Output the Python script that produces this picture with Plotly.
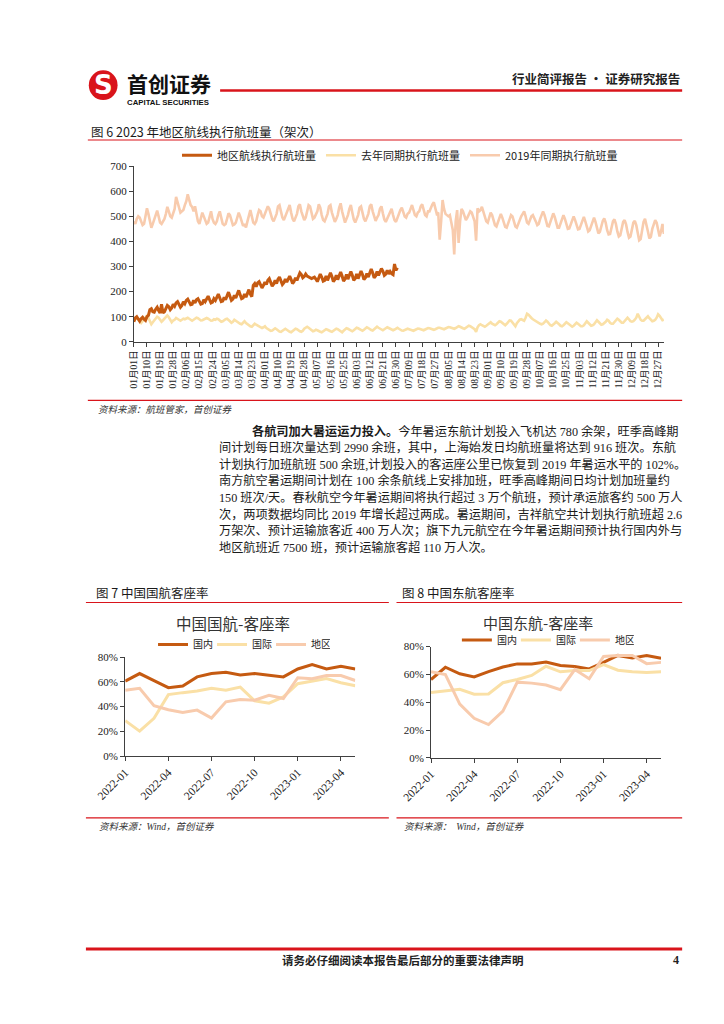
import plotly.graph_objects as go

W, H = 724, 1024
def fx(x): return x / W
def fy(y): return 1 - y / H

# ---------------- Figure 6 data (daily, 2023 calendar) ----------------
tick_labels_6 = ['01月01日', '01月10日', '01月19日', '01月28日', '02月06日', '02月15日', '02月24日',
                 '03月05日', '03月14日', '03月23日', '04月01日', '04月10日', '04月19日', '04月28日',
                 '05月07日', '05月16日', '05月25日', '06月03日', '06月12日', '06月21日', '06月30日',
                 '07月09日', '07月18日', '07月27日', '08月05日', '08月14日', '08月23日', '09月01日',
                 '09月10日', '09月19日', '09月28日', '10月07日', '10月16日', '10月25日', '11月03日',
                 '11月12日', '11月21日', '11月30日', '12月09日', '12月18日', '12月27日']

flights_2023 = [
    80, 95, 100, 88, 82, 92, 98,
    90, 85, 100, 105, 128, 132, 120,
    118, 130, 138, 125, 115, 150, 115,
    120, 132, 145, 140, 128, 135, 150,
    142, 155, 160, 150, 138, 145, 160,
    152, 165, 170, 158, 148, 150, 165,
    155, 168, 172, 160, 150, 152, 168,
    160, 175, 182, 168, 155, 158, 172,
    165, 178, 190, 175, 160, 162, 178,
    168, 185, 198, 182, 165, 170, 185,
    175, 190, 205, 188, 172, 175, 190,
    178, 195, 208, 190, 180, 225, 232,
    220, 235, 240, 228, 215, 225, 238,
    228, 245, 252, 238, 222, 230, 245,
    232, 250, 258, 242, 228, 235, 250,
    238, 252, 262, 248, 232, 240, 255,
    245, 262, 275, 268, 255, 260, 270,
    262, 258, 255, 252, 255, 258, 250,
    240, 255, 270, 258, 242, 245, 262,
    245, 262, 275, 260, 240, 248, 265,
    248, 265, 278, 262, 242, 250, 268,
    250, 268, 280, 265, 245, 252, 270,
    252, 270, 282, 268, 248, 255, 272,
    258, 275, 290, 275, 255, 262, 280,
    265, 280, 292, 282, 265, 270, 285,
    270, 280, 272, 268, 310, 285, 295,
]

flights_2022 = [
    85, 90, 95, 88, 80, 75, 82,
    90, 98, 104, 95, 85, 70, 78,
    85, 92, 100, 96, 88, 80, 86,
    92, 100, 105, 98, 90, 78, 85,
    88, 95, 92, 86, 84, 88, 92,
    90, 94, 96, 92, 86, 84, 88,
    92, 96, 94, 90, 85, 86, 90,
    93, 95, 92, 88, 84, 85, 90,
    88, 92, 90, 84, 80, 82, 88,
    90, 92, 88, 82, 76, 80, 88,
    84, 78, 74, 72, 70, 76, 82,
    75, 70, 65, 62, 60, 66, 72,
    68, 64, 60, 56, 55, 58, 62,
    55, 50, 46, 44, 45, 50, 54,
    50, 45, 41, 40, 43, 48, 52,
    48, 43, 40, 38, 42, 47, 52,
    50, 45, 42, 40, 44, 52, 58,
    60, 56, 50, 45, 42, 44, 48,
    46, 42, 40, 38, 42, 46, 50,
    48, 44, 42, 40, 45, 50, 52,
    50, 46, 42, 38, 44, 50, 54,
    52, 48, 44, 42, 46, 52, 56,
    54, 50, 46, 44, 48, 54, 58,
    55, 50, 47, 45, 50, 56, 60,
    56, 52, 48, 46, 50, 55, 58,
    55, 51, 48, 46, 49, 53, 56,
    52, 48, 45, 44, 47, 50, 52,
    50, 47, 45, 44, 47, 51, 53,
    52, 49, 47, 46, 49, 53, 55,
    54, 51, 49, 48, 50, 54, 56,
    56, 53, 51, 50, 53, 57, 59,
    58, 55, 53, 52, 55, 60, 62,
    60, 56, 54, 52, 56, 62, 64,
    62, 58, 55, 50, 40, 58, 66,
    70, 66, 62, 60, 64, 70, 74,
    78, 72, 68, 66, 70, 78, 82,
    80, 75, 70, 66, 72, 80, 85,
    84, 78, 72, 62, 74, 82, 88,
    90, 86, 84, 96, 112, 108, 100,
    95, 90, 86, 84, 80, 76, 72,
    70, 72, 78, 85, 80, 72, 66,
    64, 68, 74, 80, 76, 70, 64,
    62, 66, 72, 78, 74, 68, 62,
    60, 64, 70, 76, 72, 66, 62,
    62, 66, 74, 82, 76, 70, 64,
    66, 70, 78, 86, 80, 72, 68,
    70, 74, 80, 88, 84, 76, 72,
    72, 78, 84, 92, 88, 80, 76,
    76, 82, 88, 96, 90, 82, 80,
    82, 88, 96, 112, 100, 88, 84,
    84, 90, 96, 102, 94, 86, 82,
    84, 88, 96, 110, 104, 92, 86,
    88,
]

flights_2019 = [
    480, 470, 490, 500, 495, 475, 465,
    470, 500, 532, 510, 480, 455, 470,
    485, 505, 523, 500, 475, 470, 480,
    490, 510, 538, 520, 500, 495, 510,
    530, 578, 560, 540, 515, 520, 525,
    545, 560, 588, 570, 545, 538, 520,
    540, 500, 480, 470, 490, 515, 500,
    480, 470, 475, 500, 520, 490, 475,
    470, 480, 505, 520, 495, 470, 465,
    470, 490, 512, 505, 480, 465, 468,
    475, 495, 515, 500, 478, 462, 470,
    456, 480, 510, 525, 500, 475, 470,
    480, 505, 525, 520, 500, 495, 510,
    525, 540, 530, 505, 490, 480, 495,
    510, 540, 545, 520, 495, 485, 500,
    515, 535, 545, 515, 490, 480, 495,
    510, 540, 548, 520, 500, 485, 495,
    515, 545, 540, 510, 490, 495, 505,
    520, 548, 535, 505, 485, 480, 495,
    510, 540, 545, 515, 490, 478, 490,
    505, 535, 552, 520, 490, 475, 490,
    505, 530, 545, 515, 488, 476, 490,
    505, 535, 540, 515, 490, 480, 495,
    510, 540, 548, 520, 495, 482, 495,
    505, 530, 540, 512, 488, 478, 492,
    500, 520, 530, 505, 485, 478, 495,
    505, 525, 535, 515, 500, 495, 510,
    515, 535, 545, 525, 505, 500, 515,
    520, 540, 548, 525, 505, 500, 520,
    520, 535, 548, 556, 525, 510, 515,
    407, 480, 565, 530, 510, 505, 500,
    505, 470, 446, 348, 480, 525, 394,
    480, 530, 520, 500, 485, 495, 510,
    520, 515, 500, 480, 403, 532, 520,
    525, 538, 520, 500, 480, 475, 495,
    515, 505, 485, 465, 460, 480, 500,
    510, 495, 475, 458, 455, 475, 495,
    505, 500, 480, 460, 455, 470, 490,
    500, 510, 520, 500, 475, 470, 485,
    500, 505, 495, 480, 465, 470, 490,
    510, 520, 505, 480, 462, 460, 480,
    500, 512, 498, 475, 455, 455, 475,
    495, 505, 490, 468, 450, 452, 470,
    490, 500, 485, 462, 448, 450, 468,
    488, 498, 480, 455, 440, 445, 465,
    485, 495, 478, 450, 432, 438, 460,
    482, 492, 475, 445, 428, 430, 455,
    480, 488, 470, 440, 420, 425, 450,
    478, 485, 468, 438, 415, 420, 448,
    475, 482, 465, 435, 405, 410, 445,
    478, 490, 470, 440, 412, 418, 450,
    470, 485, 475, 445, 420, 440, 470,
    430,
]

# ---------------- Figures 7 / 8 data (monthly load factor, %) ----------------
months = ['2022-01', '2022-02', '2022-03', '2022-04', '2022-05', '2022-06', '2022-07', '2022-08',
          '2022-09', '2022-10', '2022-11', '2022-12', '2023-01', '2023-02', '2023-03', '2023-04',
          '2023-05']
month_ticks = ['2022-01', '2022-04', '2022-07', '2022-10', '2023-01', '2023-04']

ca_domestic = [60.6, 66.7, 61.0, 55.3, 56.6, 64.0, 66.7, 67.8, 65.6, 66.7, 65.4, 64.0, 70.4, 73.9, 70.4, 72.6, 70.4]
ca_intl = [28.7, 20.2, 30.6, 49.7, 51.3, 52.6, 54.8, 53.2, 55.8, 44.7, 42.8, 47.8, 58.5, 60.6, 62.7, 59.3, 56.9]
ca_region = [53.2, 54.8, 40.7, 37.5, 35.3, 37.2, 30.8, 43.9, 45.7, 45.2, 49.2, 46.5, 63.3, 62.5, 65.1, 65.1, 61.1]

mu_domestic = [56.3, 65.1, 60.4, 58.2, 62.0, 65.3, 67.5, 67.5, 68.9, 66.3, 65.6, 63.9, 68.6, 73.6, 71.7, 73.6, 71.5]
mu_intl = [46.9, 48.0, 49.2, 45.7, 45.9, 54.0, 56.3, 59.2, 65.8, 61.8, 62.7, 62.7, 67.0, 63.0, 61.8, 61.3, 61.8]
mu_region = [61.8, 59.9, 38.6, 28.4, 23.9, 33.6, 54.4, 53.7, 52.3, 49.0, 63.4, 56.8, 72.9, 73.6, 73.6, 67.7, 68.6]

# ---------------- styling ----------------
DARK = '#C55A11'
YELLOW = '#FAE0A6'
PEACH = '#F8CBAD'
RED = '#D9141B'
CJK = 'Noto Sans CJK SC'
SERIF = 'Liberation Serif, Noto Sans CJK SC'
TXT = '#1a1a1a'

fig = go.Figure()

days_2023 = list(range(len(flights_2023)))
days_full = list(range(len(flights_2019)))

fig.add_trace(go.Scatter(x=days_full, y=flights_2019, mode='lines', name='2019年同期执行航班量',
                         line=dict(color=PEACH, width=2.6), xaxis='x', yaxis='y', legend='legend'))
fig.add_trace(go.Scatter(x=days_full, y=flights_2022, mode='lines', name='去年同期执行航班量',
                         line=dict(color=YELLOW, width=2.6), xaxis='x', yaxis='y', legend='legend'))
fig.add_trace(go.Scatter(x=days_2023, y=flights_2023, mode='lines', name='地区航线执行航班量',
                         line=dict(color=DARK, width=3), xaxis='x', yaxis='y', legend='legend'))

for ys, nm, col in [(ca_domestic, '国内', DARK), (ca_intl, '国际', YELLOW), (ca_region, '地区', PEACH)]:
    fig.add_trace(go.Scatter(x=months, y=ys, mode='lines', name=nm, line=dict(color=col, width=3),
                             xaxis='x2', yaxis='y2', legend='legend2'))
for ys, nm, col in [(mu_domestic, '国内', DARK), (mu_intl, '国际', YELLOW), (mu_region, '地区', PEACH)]:
    fig.add_trace(go.Scatter(x=months, y=ys, mode='lines', name=nm, line=dict(color=col, width=3),
                             xaxis='x3', yaxis='y3', legend='legend3'))

axis_common = dict(showline=True, linecolor='#404040', linewidth=1, ticks='outside', ticklen=4,
                   tickcolor='#404040', showgrid=False, zeroline=False, fixedrange=True)

fig.update_layout(
    width=W, height=H, margin=dict(l=0, r=0, t=0, b=0),
    paper_bgcolor='white', plot_bgcolor='white',
    font=dict(family=CJK, color=TXT),
    xaxis=dict(domain=[fx(100), fx(653)], anchor='y', range=[0, 364],
               tickvals=list(range(0, 361, 9)), ticktext=tick_labels_6, tickangle=-90,
               tickfont=dict(family=SERIF, size=9.5, color='#222'), **axis_common),
    yaxis=dict(domain=[fy(331.7), fy(154)], anchor='x', range=[0, 700], dtick=100,
               tickfont=dict(family=SERIF, size=11, color='#222'), **axis_common),
    xaxis2=dict(domain=[fx(91), fx(331)], anchor='y2', type='category', range=[0, 16],
                tickvals=month_ticks, ticktext=month_ticks, tickangle=-45,
                tickfont=dict(family=SERIF, size=11.5, color='#222'), **axis_common),
    yaxis2=dict(domain=[fy(751), fy(650.7)], anchor='x2', range=[0, 80], dtick=20, ticksuffix='%',
                tickfont=dict(family=SERIF, size=11, color='#222'), **axis_common),
    xaxis3=dict(domain=[fx(410), fx(650)], anchor='y3', type='category', range=[0, 16],
                tickvals=month_ticks, ticktext=month_ticks, tickangle=-45,
                tickfont=dict(family=SERIF, size=11.5, color='#222'), **axis_common),
    yaxis3=dict(domain=[fy(752.7), fy(640)], anchor='x3', range=[0, 80], dtick=20, ticksuffix='%',
                tickfont=dict(family=SERIF, size=11, color='#222'), **axis_common),
    legend=dict(orientation='h', x=fx(145), y=fy(143), xanchor='left', yanchor='middle',
                traceorder='reversed', font=dict(family=CJK, size=11, color='#222'),
                bgcolor='rgba(0,0,0,0)', itemwidth=30, itemclick=False),
    legend2=dict(orientation='h', x=fx(120), y=fy(638), xanchor='left', yanchor='middle',
                 font=dict(family=CJK, size=10, color='#222'), bgcolor='rgba(0,0,0,0)',
                 itemwidth=30, entrywidth=14, itemclick=False),
    legend3=dict(orientation='h', x=fx(437), y=fy(633.5), xanchor='left', yanchor='middle',
                 font=dict(family=CJK, size=10, color='#222'), bgcolor='rgba(0,0,0,0)',
                 itemwidth=30, entrywidth=14, itemclick=False),
    showlegend=True,
)

# ---------------- page decorations ----------------
shapes = []
def hline(x0, x1, y, w, color=RED):
    shapes.append(dict(type='line', xref='paper', yref='paper', x0=fx(x0), x1=fx(x1),
                       y0=fy(y), y1=fy(y), line=dict(color=color, width=w)))

hline(190, 672, 77.5, 2.5)
hline(52, 672, 127.5, 1.2)
hline(52, 672, 391, 1.2)
hline(50, 366, 595.5, 1.2)
hline(374, 672, 595.5, 1.2)
hline(50, 366, 813.5, 1.2)
hline(374, 672, 813.5, 1.2)
hline(50, 672, 946, 3)
# logo circle
shapes.append(dict(type='circle', xref='paper', yref='paper', x0=fx(53), x1=fx(83),
                   y0=fy(87), y1=fy(57), fillcolor=RED, line=dict(color=RED, width=0)))
fig.update_layout(shapes=shapes)

ann = []
def text(x, y, s, size, xanchor='left', family=CJK, color=TXT, bold=False, italic=False):
    d = dict(xref='paper', yref='paper', x=fx(x), y=fy(y), text=('<b>%s</b>' % s) if bold else s,
             showarrow=False, xanchor=xanchor, yanchor='middle', align='left',
             font=dict(family=family, size=size, color=color))
    if italic:
        d['font']['style'] = 'italic'
    ann.append(d)

text(68, 71.5, 'S', 26, 'center', family='DejaVu Sans', color='white', bold=True)
# company name + English name as one text block
text(91, 74, '<span style="font-size:21px">首创证券</span><br>'
             '<span style="font-size:7.8px;font-family:Liberation Sans">CAPITAL SECURITIES</span>',
     10, bold=True, color='#111')
text(672, 65, '行业简评报告 · 证券研究报告', 12.5, 'right', bold=True, color='#222')
text(53, 119, '图 6 2023 年地区航线执行航班量（架次）', 12.5)
text(60, 400, '资料来源：航班管家，首创证券', 9.5, italic=True, color='#333')

para = [
    '<b>各航司加大暑运运力投入。</b>今年暑运东航计划投入飞机达 780 余架，旺季高峰期',
    '间计划每日班次量达到 2990 余班，其中，上海始发日均航班量将达到 916 班次。东航',
    '计划执行加班航班 500 余班,计划投入的客运座公里已恢复到 2019 年暑运水平的 102%。',
    '南方航空暑运期间计划在 100 余条航线上安排加班，旺季高峰期间日均计划加班量约',
    '150 班次/天。春秋航空今年暑运期间将执行超过 3 万个航班，预计承运旅客约 500 万人',
    '次，两项数据均同比 2019 年增长超过两成。暑运期间，吉祥航空共计划执行航班超 2.6',
    '万架次、预计运输旅客近 400 万人次；旗下九元航空在今年暑运期间预计执行国内外与',
    '地区航班近 7500 班，预计运输旅客超 110 万人次。',
]
for i, line in enumerate(para):
    text(221 if i == 0 else 187, 422 + 16.8 * i, line, 12.2, family=SERIF)

text(58, 585, '图 7 中国国航客座率', 12.5)
text(378, 585, '图 8 中国东航客座率', 12.5)
text(203, 616, '中国国航-客座率', 15.5, 'center', color='#333')
text(522, 615.5, '中国东航-客座率', 15, 'center', color='#333')
text(62, 822, '资料来源：Wind，首创证券', 9.5, family=SERIF, italic=True, color='#333')
text(380, 822, '资料来源：  Wind，首创证券', 9.5, family=SERIF, italic=True, color='#333')
text(381, 957, '请务必仔细阅读本报告最后部分的重要法律声明', 11.5, 'center', bold=True, color='#222')
text(671, 957, '4', 12, 'right', family='Liberation Serif', bold=True, color='#222')

fig.update_layout(annotations=ann)
fig.write_html('out.html')
